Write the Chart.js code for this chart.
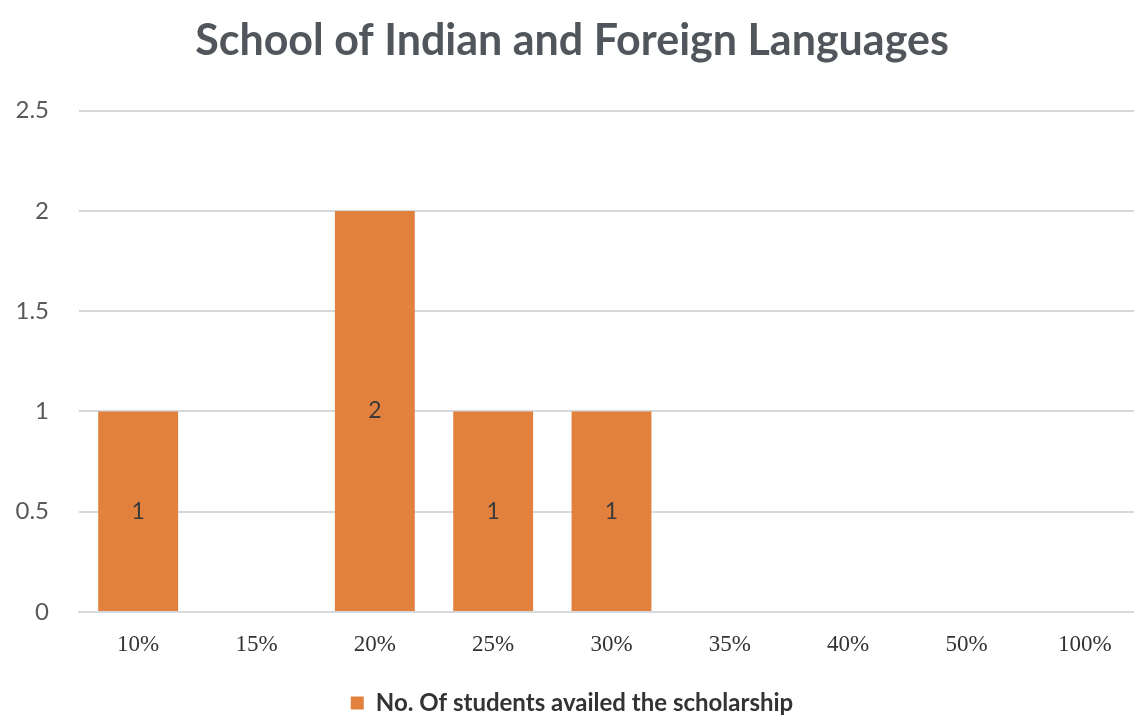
<!DOCTYPE html>
<html>
<head>
<meta charset="utf-8">
<script src="https://cdn.jsdelivr.net/npm/chart.js@4.4.1/dist/chart.umd.min.js"></script>
<style>
  html, body { margin: 0; padding: 0; background: #fff; overflow: hidden; }
  #wrap { position: relative; width: 1144px; height: 725px; }
</style>
</head>
<body>
<div id="wrap"><canvas id="c"></canvas></div>
<script>
const categories = ['10%', '15%', '20%', '25%', '30%', '35%', '40%', '50%', '100%'];
const studentCounts = [1, 0, 2, 1, 1, 0, 0, 0, 0];
const yTicks = [0, 0.5, 1, 1.5, 2, 2.5];
const seriesName = 'No. Of students availed the scholarship';
const chartTitle = 'School of Indian and Foreign Languages';

const barLabels = {
  id: 'barLabels',
  afterDatasetsDraw(chart) {
    const ctx = chart.ctx;
    const meta = chart.getDatasetMeta(0);
    ctx.save();
    ctx.font = '23px Lato';
    ctx.fillStyle = '#3a3a3a';
    ctx.textAlign = 'center';
    ctx.textBaseline = 'middle';
    meta.data.forEach((bar, i) => {
      const v = chart.data.datasets[0].data[i];
      if (!v) return;
      const y = (bar.y + bar.base) / 2;
      ctx.fillText(String(v), bar.x, y);
    });
    ctx.restore();
  }
};

new Chart(document.getElementById('c'), {
  type: 'bar',
  data: {
    labels: categories,
    datasets: [{
      label: seriesName,
      data: studentCounts,
      backgroundColor: '#E2803E',
      borderWidth: 0,
      barPercentage: 0.75,
      categoryPercentage: 0.9
    }]
  },
  options: {
    responsive: true,
    maintainAspectRatio: false,
    animation: false,
    layout: { padding: { left: 0, right: 0, top: 0, bottom: 0 } },
    plugins: {
      title: {
        display: true,
        text: chartTitle,
        color: '#50565b',
        font: { family: 'Lato', size: 43, weight: 'bold' },
        padding: { top: 15, bottom: 44 }
      },
      legend: {
        position: 'bottom',
        labels: {
          boxWidth: 13,
          boxHeight: 13,
          color: '#333',
          padding: 10,
          font: { family: 'Lato', size: 24, weight: 'bold' }
        }
      },
      tooltip: { enabled: false }
    },
    scales: {
      x: {
        grid: { display: false, drawTicks: false },
        border: { display: true, color: '#d5d9dc', width: 2 },
        ticks: {
          color: '#333',
          padding: 19,
          font: { family: 'Liberation Serif', size: 23 }
        },
        afterFit(scale) { scale.height = 69; }
      },
      y: {
        min: 0,
        max: 2.5,
        afterBuildTicks(scale) { scale.ticks = yTicks.map(v => ({ value: v })); },
        grid: { color: '#d5d9dc', lineWidth: 2, drawTicks: false },
        border: { display: false },
        ticks: {
          color: '#595959',
          padding: 30,
          font: { family: 'Lato', size: 24 },
          callback: (v) => String(v)
        },
        afterFit(scale) { scale.width = 79; }
      }
    }
  },
  plugins: [barLabels]
});
</script>
</body>
</html>
